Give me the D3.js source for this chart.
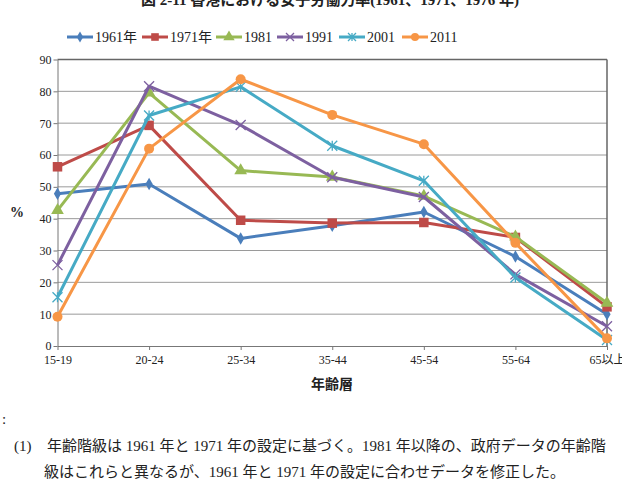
<!doctype html>
<html lang="ja">
<head>
<meta charset="UTF-8">
<title>女子労働力率</title>
<style>
  body { margin: 0; background: #fff; }
  svg text { font-family: "Liberation Serif", "Noto Sans CJK JP", serif; fill: #222; }
</style>
</head>
<body>
<div class="chart"></div>
<script src="https://d3js.org/d3.v7.min.js"></script>
<script>
  const ageGroups = ['15-19', '20-24', '25-34', '35-44', '45-54', '55-64', '65以上']
  const seriesNames = ['1961年', '1971年', '1981', '1991', '2001', '2011']
  const v1961 = [47.8, 50.9, 33.8, 37.8, 42.1, 28.1, 10.0]
  const v1971 = [56.3, 69.3, 39.5, 38.6, 38.8, 34.1, 12.3]
  const v1981 = [42.6, 79.5, 55.1, 53.1, 47.1, 34.3, 13.5]
  const v1991 = [25.4, 81.6, 69.4, 53.0, 46.8, 22.5, 6.2]
  const v2001 = [15.3, 72.4, 81.4, 62.9, 51.9, 21.5, 1.9]
  const v2011 = [9.2, 62.0, 83.8, 72.6, 63.4, 32.4, 2.4]
  const yTicks = [0, 10, 20, 30, 40, 50, 60, 70, 80, 90]

  const width = 622
  const height = 483
  const margin = {left: 57.5, right: 15, top: 59.5, bottom: 137}

  const colors = ['#4a7ebb', '#be4b48', '#98b954', '#7d60a0', '#46aac5', '#f79646']
  const markers = ['diamond', 'square', 'triangle', 'cross', 'star', 'circle']
  const allValues = [v1961, v1971, v1981, v1991, v2001, v2011]

  const svg = d3.select('.chart').append('svg')
    .attr('width', width)
    .attr('height', height)

  // title, top half cut off like the scanned page
  svg.append('text')
    .attr('x', 330).attr('y', 5)
    .attr('text-anchor', 'middle')
    .style('font-size', '15px').style('font-weight', 'bold')
    .text('図 2-11 香港における女子労働力率(1961、1971、1976 年)')

  const x = d3.scalePoint().domain(ageGroups).range([margin.left, width - margin.right])
  const y = d3.scaleLinear().domain([0, 90]).range([height - margin.bottom, margin.top])

  // gridlines
  svg.append('g').selectAll('line').data(yTicks.slice(1)).join('line')
    .attr('x1', margin.left).attr('x2', width - margin.right)
    .attr('y1', d => y(d)).attr('y2', d => y(d))
    .attr('stroke', d => d === 90 ? '#666' : '#9a9a9a')
    .attr('stroke-width', d => d === 90 ? 1.5 : 1)

  svg.append('line')
    .attr('x1', width - margin.right).attr('x2', width - margin.right)
    .attr('y1', y(90)).attr('y2', y(0))
    .attr('stroke', '#666').attr('stroke-width', 1.5)

  const yAxis = svg.append('g')
    .attr('transform', `translate(${margin.left},0)`)
    .call(d3.axisLeft(y).tickValues(yTicks).tickSize(4).tickSizeOuter(0))
  yAxis.select('.domain').attr('stroke', '#777')
  yAxis.selectAll('.tick line').attr('stroke', '#777')
  yAxis.selectAll('text').style('font-size', '12px').attr('x', -6)

  const xAxis = svg.append('g')
    .attr('transform', `translate(0,${y(0)})`)
    .call(d3.axisBottom(x).tickSize(4).tickSizeOuter(0))
  xAxis.select('.domain').attr('stroke', '#777')
  xAxis.selectAll('.tick line').attr('stroke', '#777')
  xAxis.selectAll('text').style('font-size', '12px').attr('y', 9)

  svg.append('text')
    .attr('x', 17).attr('y', 217)
    .attr('text-anchor', 'middle')
    .style('font-size', '14px').style('font-weight', 'bold')
    .text('%')

  svg.append('text')
    .attr('x', 332).attr('y', 389)
    .attr('text-anchor', 'middle')
    .style('font-size', '14px').style('font-weight', 'bold')
    .text('年齢層')

  function drawMarker(g, type, color, s) {
    if (type === 'diamond') {
      g.append('path').attr('d', d3.symbol(d3.symbolDiamond, s * 9)()).attr('fill', color)
    } else if (type === 'square') {
      g.append('rect').attr('x', -s * 0.95).attr('y', -s * 0.95)
        .attr('width', s * 1.9).attr('height', s * 1.9).attr('fill', color)
    } else if (type === 'triangle') {
      g.append('path').attr('d', d3.symbol(d3.symbolTriangle, s * 14)()).attr('fill', color)
    } else if (type === 'cross') {
      g.append('path').attr('d', `M${-s},${-s}L${s},${s}M${-s},${s}L${s},${-s}`)
        .attr('stroke', color).attr('stroke-width', 1.3).attr('fill', 'none')
    } else if (type === 'star') {
      g.append('path').attr('d', `M${-s},${-s}L${s},${s}M${-s},${s}L${s},${-s}M0,${-s}L0,${s}`)
        .attr('stroke', color).attr('stroke-width', 1.3).attr('fill', 'none')
    } else {
      g.append('circle').attr('r', s).attr('fill', color)
    }
  }

  const line = d3.line().x((d, i) => x(ageGroups[i])).y(d => y(d))

  allValues.forEach((vals, k) => {
    svg.append('path')
      .datum(vals)
      .attr('d', line)
      .attr('fill', 'none')
      .attr('stroke', colors[k])
      .attr('stroke-width', 3)
      .attr('stroke-linejoin', 'round')
    vals.forEach((v, i) => {
      const g = svg.append('g').attr('transform', `translate(${x(ageGroups[i])},${y(v)})`)
      drawMarker(g, markers[k], colors[k], 5)
    })
  })

  // legend
  const legendX = [67, 142, 216, 277, 339, 402]
  seriesNames.forEach((name, k) => {
    const lg = svg.append('g').attr('transform', `translate(${legendX[k]},37)`)
    lg.append('line').attr('x1', 0).attr('x2', 26).attr('y1', 0).attr('y2', 0)
      .attr('stroke', colors[k]).attr('stroke-width', 3)
    const m = lg.append('g').attr('transform', 'translate(13,0)')
    drawMarker(m, markers[k], colors[k], 4)
    lg.append('text').attr('x', 28).attr('y', 5)
      .style('font-size', '14px').text(name)
  })

  // footnote
  const notes = [
    {x: 2, y: 424, t: ':'},
    {x: 14, y: 451, t: '(1)'},
    {x: 47, y: 451, t: '年齢階級は 1961 年と 1971 年の設定に基づく。1981 年以降の、政府データの年齢階'},
    {x: 44, y: 477, t: '級はこれらと異なるが、1961 年と 1971 年の設定に合わせデータを修正した。'}
  ]
  svg.append('g').selectAll('text').data(notes).join('text')
    .attr('x', d => d.x).attr('y', d => d.y)
    .style('font-size', '15px')
    .text(d => d.t)
</script>
</body>
</html>
